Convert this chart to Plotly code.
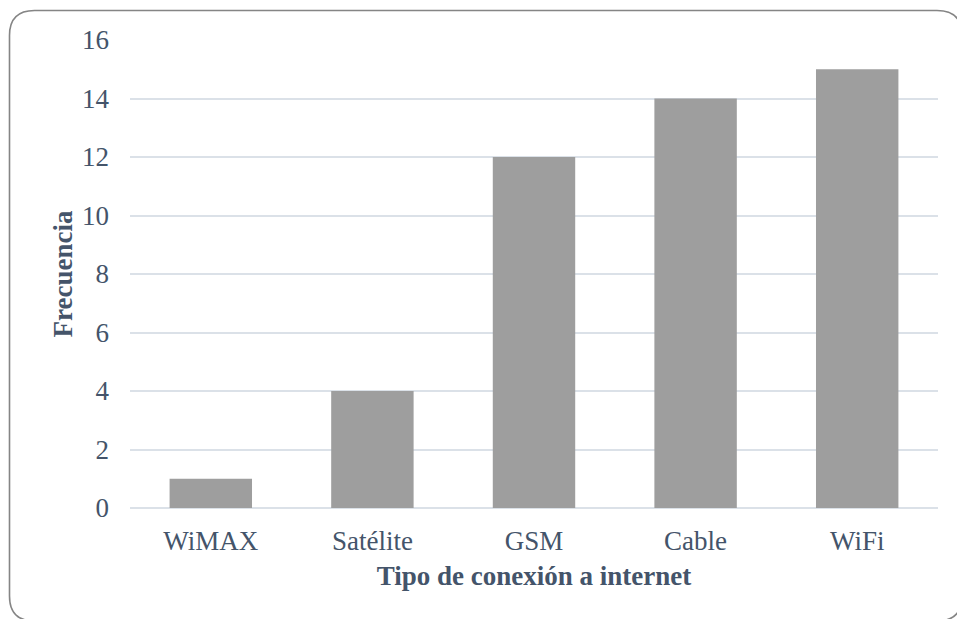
import plotly.graph_objects as go

# Tipos de conexión y frecuencia de uso
categorias = ["WiMAX", "Satélite", "GSM", "Cable", "WiFi"]
frecuencias = [1, 4, 12, 14, 15]
ticks_y = [0, 2, 4, 6, 8, 10, 12, 14, 16]

W, H = 957, 619
ML, MR, MT, MB = 130, 19, 40, 111
PW, PH = W - ML - MR, H - MT - MB

TEXT = "#44546a"
FONT = "'Times New Roman', 'Liberation Serif', serif"

fig = go.Figure(
    go.Bar(
        x=categorias,
        y=frecuencias,
        marker=dict(color="#9e9e9e", line=dict(width=0)),
        width=0.51,
    )
)


def px(x, y):
    """Pixel position -> paper coordinates string for a shape path."""
    return f"{(x - ML) / PW:.5f},{(H - MB - y) / PH:.5f}"


# rounded frame around the chart area
x0, y0, x1, y1, r = 9.5, 10.5, 962, 621, 25
frame = (
    f"M {px(x0 + r, y0)} L {px(x1 - r, y0)} Q {px(x1, y0)} {px(x1, y0 + r)} "
    f"L {px(x1, y1 - r)} Q {px(x1, y1)} {px(x1 - r, y1)} "
    f"L {px(x0 + r, y1)} Q {px(x0, y1)} {px(x0, y1 - r)} "
    f"L {px(x0, y0 + r)} Q {px(x0, y0)} {px(x0 + r, y0)} Z"
)

fig.update_layout(
    width=W,
    height=H,
    margin=dict(l=ML, r=MR, t=MT, b=MB),
    paper_bgcolor="white",
    plot_bgcolor="white",
    showlegend=False,
    font=dict(family=FONT, color=TEXT, size=27),
    shapes=[
        dict(
            type="path",
            xref="paper",
            yref="paper",
            path=frame,
            line=dict(color="#858585", width=1.6),
            layer="below",
        )
    ],
)

fig.update_xaxes(
    showgrid=False,
    showline=False,
    ticks="",
    ticklabelstandoff=14,
    tickfont=dict(size=27, family=FONT, color=TEXT),
    title=dict(
        text="<b>Tipo de conexión a internet</b>",
        font=dict(size=27, family=FONT, color=TEXT),
        standoff=11,
    ),
)

fig.update_yaxes(
    range=[0, 16],
    tickvals=ticks_y,
    showgrid=True,
    gridcolor="#dbe1e8",
    gridwidth=1.5,
    zeroline=True,
    zerolinecolor="#dbe1e8",
    zerolinewidth=1.5,
    showline=False,
    ticks="",
    ticklabelstandoff=20,
    tickfont=dict(size=27, family=FONT, color=TEXT),
    title=dict(
        text="<b>Frecuencia</b>",
        font=dict(size=27, family=FONT, color=TEXT),
        standoff=1,
    ),
)

fig.write_html("out.html")
